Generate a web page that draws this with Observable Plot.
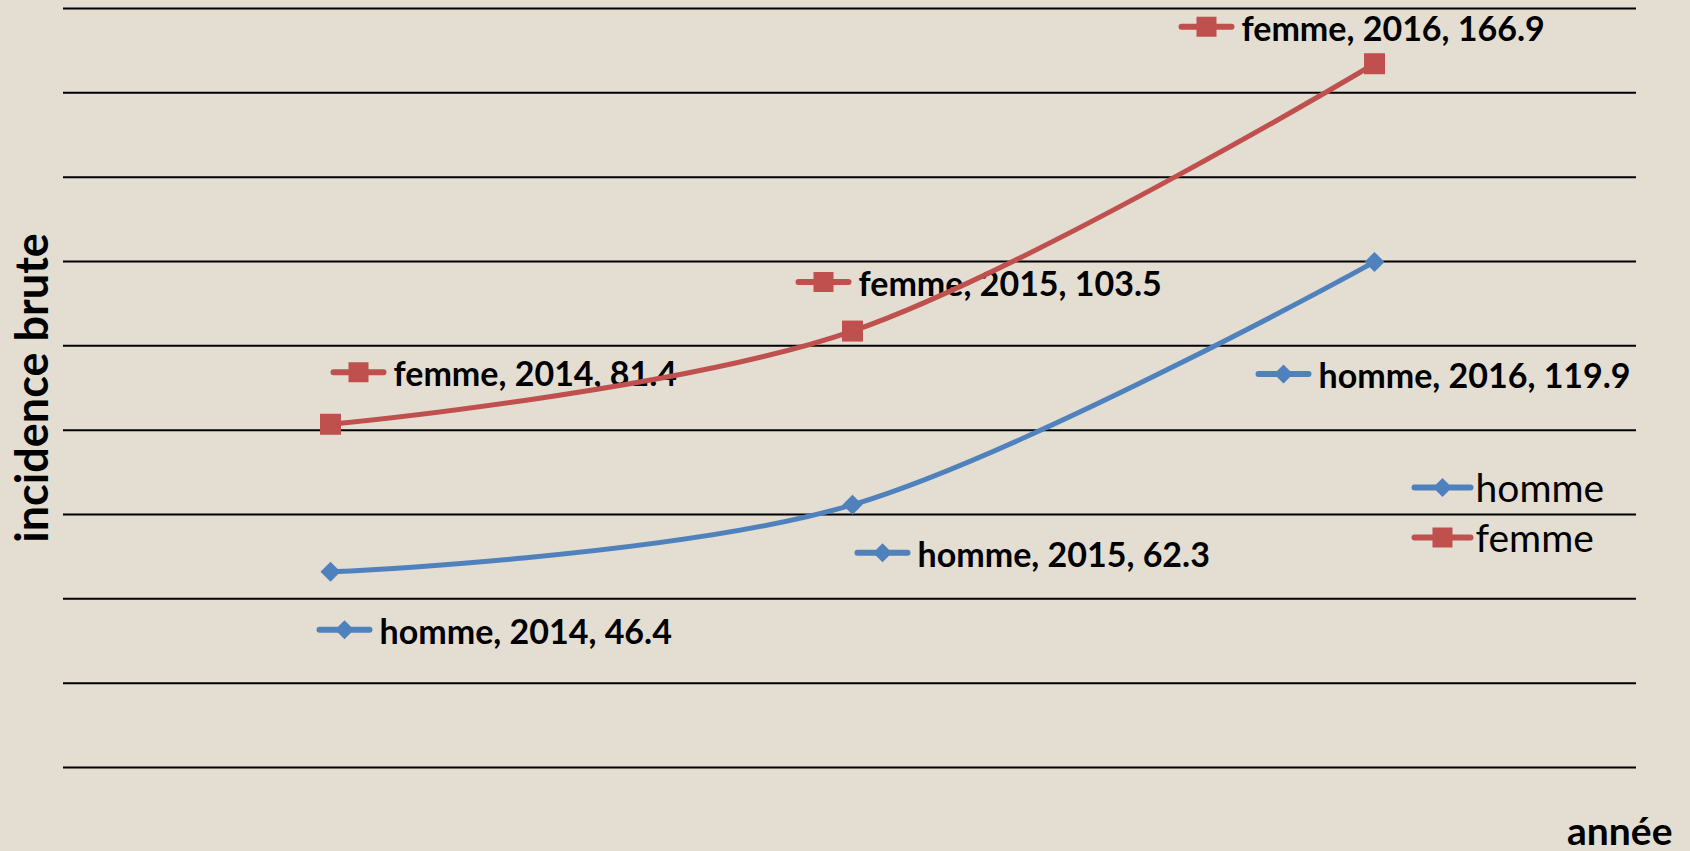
<!DOCTYPE html>
<html>
<head>
<meta charset="utf-8">
<script src="https://cdn.jsdelivr.net/npm/d3@7"></script>
<script src="https://cdn.jsdelivr.net/npm/@observablehq/plot@0.6"></script>
<style>
  html, body { margin: 0; padding: 0; background: #E3DDD2; }
  #chart svg { display: block; }
</style>
</head>
<body>
<div id="chart"></div>
<script>
// ---- data ----
const years = ["2014", "2015", "2016"];
const homme = [46.4, 62.3, 119.9];
const femme = [81.4, 103.5, 166.9];
const seriesNames = ["homme", "femme"];
const yGrid = [0, 20, 40, 60, 80, 100, 120, 140, 160, 180];
const yTitle = "incidence brute";
const xTitle = "année";

// ---- layout / style (not data) ----
const seriesColors = ["#4F81BD", "#C0504D"];
const seriesShapes = ["diamond", "square"];
// offset of each data label's key (line+marker) from its point, in px
const labelOffsets = {
  homme: [[14, 58], [30, 48], [-91, 112]],
  femme: [[28, -52], [-29, -49], [-168, -37]]
};

const values = { homme, femme };
const rows = seriesNames.flatMap(s => years.map((yr, i) => ({ series: s, year: yr, value: values[s][i], i })));

function markerPath(ctx, shape, h) {
  if (shape === "square") {
    ctx.moveTo(-h, -h); ctx.lineTo(h, -h); ctx.lineTo(h, h); ctx.lineTo(-h, h); ctx.closePath();
  } else {
    ctx.moveTo(0, -h); ctx.lineTo(h, 0); ctx.lineTo(0, h); ctx.lineTo(-h, 0); ctx.closePath();
  }
}
function markerSymbol(shape) {
  return { draw(ctx) { markerPath(ctx, shape, shape === "square" ? 10.5 : 10); } };
}
function keySymbol(shape, half) {
  return {
    draw(ctx) {
      const t = 3;
      ctx.moveTo(-half, -t); ctx.lineTo(half, -t);
      ctx.arc(half, 0, t, -Math.PI / 2, Math.PI / 2);
      ctx.lineTo(-half, t);
      ctx.arc(-half, 0, t, Math.PI / 2, 3 * Math.PI / 2);
      ctx.closePath();
      markerPath(ctx, shape, shape === "square" ? 10 : 9.5);
    }
  };
}

const labelMarks = rows.flatMap(d => {
  const si = seriesNames.indexOf(d.series);
  const [ox, oy] = labelOffsets[d.series][d.i];
  return [
    Plot.text([d], {
      x: "year", y: "value",
      text: r => `${r.series}, ${r.year}, ${r.value}`,
      dx: ox + 35, dy: oy + 14,
      textAnchor: "start", lineAnchor: "bottom",
      fontWeight: "bold", fontSize: 34, fill: "#000"
    }),
    Plot.dot([d], {
      x: "year", y: "value", dx: ox, dy: oy,
      symbol: keySymbol(seriesShapes[si], 25), r: 5,
      fill: seriesColors[si], stroke: "none"
    })
  ];
});

const seriesMarks = seriesNames.flatMap((s, si) => {
  const data = rows.filter(r => r.series === s);
  return [
    Plot.line(data, {
      x: "year", y: "value", stroke: seriesColors[si], strokeWidth: 5,
      curve: "cardinal", strokeLinecap: "round", strokeLinejoin: "round"
    }),
    Plot.dot(data, {
      x: "year", y: "value", symbol: markerSymbol(seriesShapes[si]), r: 5,
      fill: seriesColors[si], stroke: "none"
    })
  ];
});

const legendMarks = seriesNames.flatMap((s, si) => [
  Plot.dot([s], {
    frameAnchor: "top-right", dx: -194, dy: 479 + si * 50,
    symbol: keySymbol(seriesShapes[si], 28), r: 5,
    fill: seriesColors[si], stroke: "none"
  }),
  Plot.text([s], {
    frameAnchor: "top-right", text: d => d, dx: -161, dy: 493 + si * 50,
    textAnchor: "start", lineAnchor: "bottom", fontSize: 39, fill: "#000"
  })
]);

const chart = Plot.plot({
  width: 1690,
  height: 851,
  marginLeft: 63,
  marginRight: 54,
  marginTop: 8,
  marginBottom: 84,
  style: { background: "transparent", fontFamily: "Lato, 'Open Sans', sans-serif", overflow: "visible" },
  x: { type: "point", domain: years, padding: 0.5, insetLeft: 5, axis: null },
  y: { domain: [0, 180], axis: null },
  marks: [
    Plot.ruleY(yGrid, { stroke: "#000", strokeWidth: 2 }),
    ...labelMarks,
    ...seriesMarks,
    ...legendMarks,
    Plot.text([yTitle], {
      frameAnchor: "left", text: d => d, rotate: -90, dx: -30,
      textAnchor: "middle", lineAnchor: "middle",
      fontWeight: "bold", fontSize: 45, fill: "#000"
    }),
    Plot.text([xTitle], {
      frameAnchor: "bottom-right", text: d => d, textAnchor: "end", lineAnchor: "bottom",
      dx: 36, dy: 77, fontWeight: "bold", fontSize: 39, fill: "#000"
    })
  ]
});
document.getElementById("chart").appendChild(chart);
</script>
</body>
</html>
